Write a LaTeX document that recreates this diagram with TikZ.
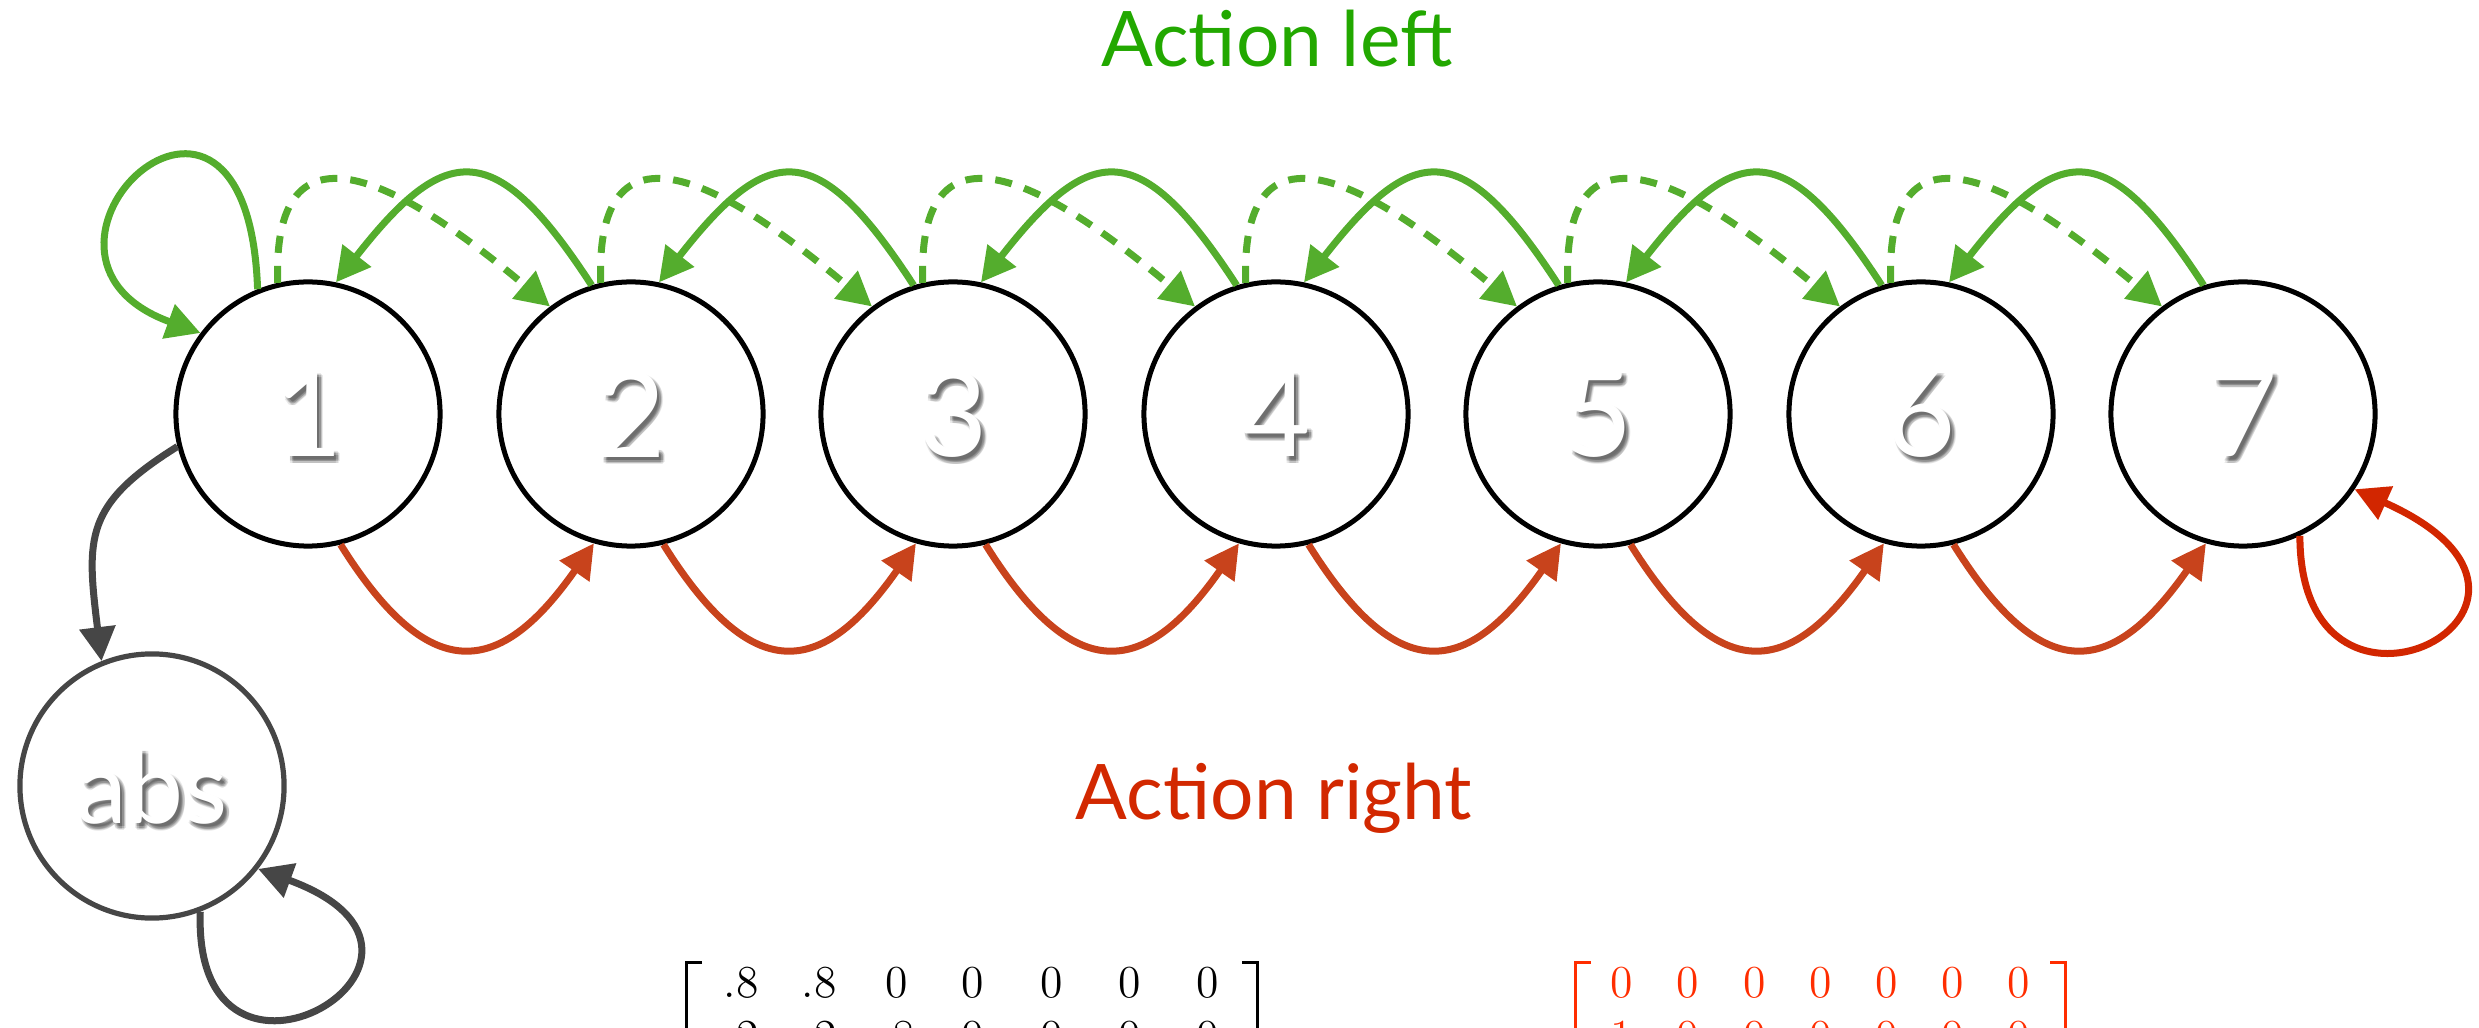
\documentclass[tikz,border=0pt]{standalone}
\usepackage[no-math]{fontspec}
\newfontfamily\labelfont{Lato}
\usetikzlibrary{arrows.meta}

\definecolor{leftgreen}{RGB}{84,173,45}
\definecolor{lefttext}{RGB}{34,168,0}
\definecolor{rightred}{RGB}{200,67,28}
\definecolor{righttext}{RGB}{210,40,0}
\definecolor{loopred}{RGB}{210,38,0}
\definecolor{matred}{RGB}{255,45,0}
\definecolor{absgray}{RGB}{70,70,70}

% white label with a soft drop shadow: anchor, text, name, size style
\newcommand{\shadowlabel}[4]{%
  \foreach \dx/\dy in {4/-5, 2/-5, 6/-5, 4/-3, 4/-7, 2.5/-3.5, 5.5/-6.5, 2.5/-6.5, 5.5/-3.5}
    {\node[labelshadow, #4] at ([shift={(\dx,\dy)}]#1) {#2};}
  \node[labeltext, #4] (#3) at (#1) {#2};
}

\begin{document}
\begin{tikzpicture}[x=0.01cm, y=0.01cm,
  state/.style={circle, draw=black, line width=0.05cm, minimum size=2.64cm,
    inner sep=0pt, fill=white},
  absstate/.style={state, draw=absgray, line width=0.052cm},
  labeltext/.style={text=white, inner sep=0pt},
  labelshadow/.style={labeltext, text=black, text opacity=0.085},
  digitsize/.style={font=\labelfont\fontsize{34}{40}\selectfont},
  abssize/.style={font=\labelfont\fontsize{29}{34}\selectfont},
  headtip/.style={-{Triangle[length=0.34cm, width=0.35cm]}},
  movebase/.style={line width=0.07cm, headtip},
  leftsolid/.style={movebase, draw=leftgreen},
  lefttry/.style={movebase, draw=leftgreen, dash pattern=on 0.17cm off 0.13cm},
  rightmove/.style={movebase, draw=rightred},
  rightloop/.style={movebase, draw=loopred},
  absmove/.style={movebase, draw=absgray},
  title/.style={font=\labelfont\fontsize{21.8}{26}\selectfont, anchor=base, inner sep=0pt},
  entry/.style={font=\fontsize{13}{15.6}\selectfont, anchor=base, inner sep=0pt},
  bracket/.style={line width=0.033cm, line join=miter},
]
\useasboundingbox (0,0) rectangle (2479,1027);

% states of the chain and the absorbing state
\foreach \i/\x in {1/308, 2/631, 3/953, 4/1276, 5/1598, 6/1921, 7/2243}
  {\node[state] (n\i) at (\x,613) {};}
\node[absstate] (abs) at (152,241) {};

\foreach \i in {1,...,7}
  {\shadowlabel{n\i}{\i}{l\i}{digitsize}}
\shadowlabel{abs}{abs}{labs}{abssize}

% action left: intended move (solid) and slip to the right (dashed)
\foreach \k/\j in {1/2, 2/3, 3/4, 4/5, 5/6, 6/7} {
  \draw[lefttry] (n\k.103) .. controls +(92:185) and +(140:170) .. (n\j.127);
  \draw[leftsolid] (n\j.107) .. controls +(123:178) and +(52:178) .. (n\k.78);
}
\draw[leftsolid] (n1.112) .. controls +(92:290) and +(160:230) .. (n1.143);

% action right
\foreach \k/\j in {1/2, 2/3, 3/4, 4/5, 5/6, 6/7}
  {\draw[rightmove] (n\k.-76) .. controls +(-58:166) and +(235:166) .. (n\j.-106);}
\draw[rightloop] (n7.-65) .. controls +(-90:230) and +(-24:285) .. (n7.-34);

% absorbing transitions
\draw[absmove] (n1.194) .. controls +(212:110) and +(97:125) .. (abs.112);
\draw[absmove] (abs.-69) .. controls +(-92:225) and +(-20:255) .. (abs.-38);

% titles
\node[title, text=lefttext] (lefttitle) at (1277,960) {Action left};
\node[title, text=righttext] (righttitle) at (1274,208) {Action right};

% transition matrix, action left
\foreach \x/\v [count=\c] in {741/.8, 819/.8, 897/0, 973/0, 1052/0, 1130/0, 1208/0}
  {\node[entry] (pa1\c) at (\x,30) {\v};}
\foreach \x/\v [count=\c] in {741/.2, 819/.2, 897/.8, 973/0, 1052/0, 1130/0, 1208/0}
  {\node[entry] (pa2\c) at (\x,-24) {\v};}
\draw[bracket] (702,64.5) -- (686.5,64.5) -- (686.5,-80);
\draw[bracket] (1242,64.5) -- (1257.5,64.5) -- (1257.5,-80);

% transition matrix, action right
\begin{scope}[text=matred]
\foreach \x/\v [count=\c] in {1622/0, 1688/0, 1755/0, 1821/0, 1887/0, 1953/0, 2019/0}
  {\node[entry] (pb1\c) at (\x,30) {\v};}
\foreach \x/\v [count=\c] in {1622/1, 1688/0, 1755/0, 1821/0, 1887/0, 1953/0, 2019/0}
  {\node[entry] (pb2\c) at (\x,-24) {\v};}
\end{scope}
\draw[bracket, draw=matred] (1591,64.5) -- (1575.5,64.5) -- (1575.5,-80);
\draw[bracket, draw=matred] (2050,64.5) -- (2065.5,64.5) -- (2065.5,-80);
\end{tikzpicture}
\end{document}
